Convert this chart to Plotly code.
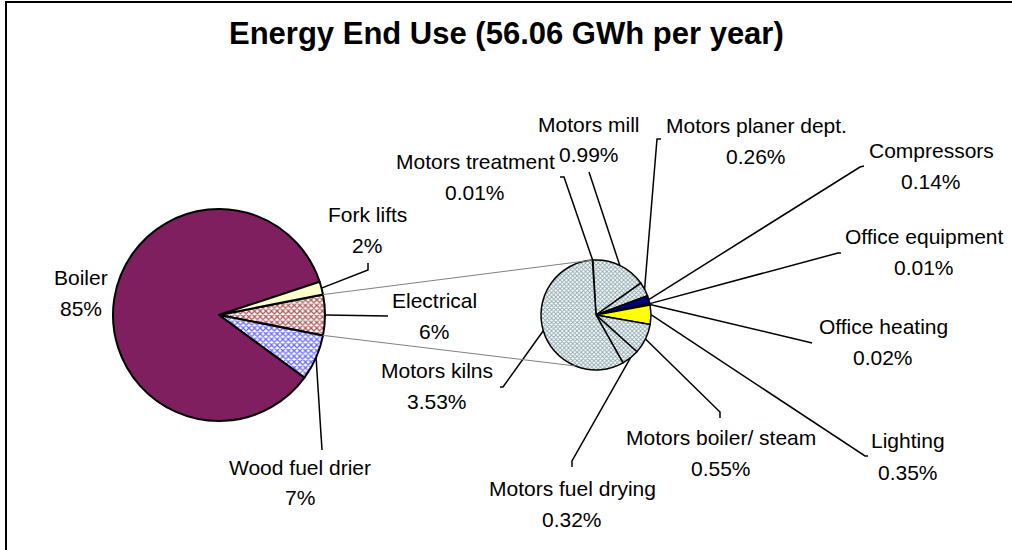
import math
import plotly.graph_objects as go

W, H = 1012, 550
FONT = "Liberation Sans, Arial, sans-serif"

# main pie (clockwise from the Electrical slice)
main_labels = ["Electrical", "Wood fuel drier", "Boiler", "Fork lifts"]
main_pct_text = ["6%", "7%", "85%", "2%"]

# breakdown of the Electrical slice (clockwise from the top)
sec_labels = ["Motors treatment", "Motors mill", "Motors planer dept.", "Compressors",
              "Office equipment", "Office heating", "Lighting", "Motors boiler/ steam",
              "Motors fuel drying", "Motors kilns"]
sec_values = [0.01, 0.99, 0.26, 0.14, 0.01, 0.02, 0.35, 0.55, 0.32, 3.53]
sec_pct_text = ["0.01%", "0.99%", "0.26%", "0.14%", "0.01%", "0.02%", "0.35%",
                "0.55%", "0.32%", "3.53%"]

electrical = round(sum(sec_values), 2)
main_values = [electrical, 7, 85, 2]

# pie placement in pixels
MAIN_C, MAIN_R = (219, 315), 106
SEC_C, SEC_R = (596, 315), 55
SEC_ROT = -3.8
main_rot = 90 - electrical / sum(main_values) * 180


def px(x, y):
    return x / W, 1 - y / H


def domain(c, r):
    return dict(x=[(c[0] - r) / W, (c[0] + r) / W], y=[1 - (c[1] + r) / H, 1 - (c[1] - r) / H])


def slice_angles(values, rot):
    # start / mid / end angles, degrees clockwise from 12 o'clock
    tot = sum(values)
    a = rot
    out = []
    for v in values:
        span = v / tot * 360
        out.append((a, a + span / 2, a + span))
        a += span
    return out


def edge(c, r, ang):
    t = math.radians(ang)
    return c[0] + r * math.sin(t), c[1] - r * math.cos(t)


fig = go.Figure()

fig.add_trace(go.Pie(
    labels=main_labels, values=main_values, sort=False, direction="clockwise",
    rotation=main_rot, domain=domain(MAIN_C, MAIN_R), textinfo="none", showlegend=False,
    marker=dict(
        colors=["#ffffff", "#ffffff", "#7f1f5f", "#ffffcc"],
        line=dict(color="black", width=2),
        pattern=dict(shape=["x", "x", "", ""], fgcolor=["#b05a5a", "#6a6aff", "#7f1f5f", "#ffffcc"],
                     bgcolor=["#ffffff", "#ffffff", "#7f1f5f", "#ffffcc"], size=4, solidity=0.55),
    ),
))

sec_bg = ["#ffffff"] * len(sec_values)
sec_bg[3] = "#000080"
sec_bg[6] = "#ffff00"
sec_shape = ["x"] * len(sec_values)
sec_shape[3] = ""
sec_shape[6] = ""
sec_fg = ["#8aa6ae"] * len(sec_values)
sec_fg[3] = "#000080"
sec_fg[6] = "#ffff00"

fig.add_trace(go.Pie(
    labels=sec_labels, values=sec_values, sort=False, direction="clockwise",
    rotation=SEC_ROT, domain=domain(SEC_C, SEC_R), textinfo="none", showlegend=False,
    marker=dict(
        colors=sec_bg,
        line=dict(color="black", width=1.5),
        pattern=dict(shape=sec_shape, fgcolor=sec_fg, bgcolor=sec_bg, size=3, solidity=0.5),
    ),
))

shapes = []
annotations = []


def path_shape(points, color="black", width=1.5):
    d = ""
    for i, (x, y) in enumerate(points):
        u, v = px(x, y)
        d += ("M" if i == 0 else "L") + f"{u:.5f},{v:.5f} "
    shapes.append(dict(type="path", xref="paper", yref="paper", path=d.strip(),
                       line=dict(color=color, width=width)))


def label(name, pct, pos, gap=31):
    for txt, dy in ((name, 0), (pct, gap)):
        u, v = px(pos[0], pos[1] + dy)
        annotations.append(dict(text=txt, x=u, y=v, xref="paper", yref="paper",
                                showarrow=False, xanchor="center", yanchor="middle",
                                font=dict(family=FONT, size=21, color="black")))


# label centres (first line) and leader-line anchors, in pixels
main_pos = {"Electrical": (434, 300), "Wood fuel drier": (300, 467),
            "Boiler": (81, 277), "Fork lifts": (367, 214)}
main_lead = {"Electrical": [(388, 316)], "Wood fuel drier": [(322, 450)],
             "Fork lifts": [(368, 263), (368, 270)]}

sec_pos = {"Motors treatment": (475, 161), "Motors mill": (589, 124),
           "Motors planer dept.": (756, 125), "Compressors": (931, 150),
           "Office equipment": (924, 236), "Office heating": (883, 326),
           "Lighting": (908, 441), "Motors boiler/ steam": (721, 437),
           "Motors fuel drying": (572, 488), "Motors kilns": (437, 370)}
sec_lead = {"Motors treatment": [(560, 177), (564, 177)],
            "Motors mill": [(589, 172)],
            "Motors planer dept.": [(661, 139), (657, 139)],
            "Compressors": [(864, 166), (860, 167)],
            "Office equipment": [(841, 253), (838, 253)],
            "Office heating": [(812, 343), (808, 342)],
            "Lighting": [(868, 456), (865, 456)],
            "Motors boiler/ steam": [(720, 418), (720, 412)],
            "Motors fuel drying": [(572, 467), (572, 461)],
            "Motors kilns": [(500, 387), (503, 387)]}

main_ang = slice_angles(main_values, main_rot)
for name, pct, (a0, am, a1) in zip(main_labels, main_pct_text, main_ang):
    label(name, pct, main_pos[name])
    if name in main_lead:
        path_shape(main_lead[name] + [edge(MAIN_C, MAIN_R, am)])

sec_ang = slice_angles(sec_values, SEC_ROT)
for name, pct, (a0, am, a1) in zip(sec_labels, sec_pct_text, sec_ang):
    label(name, pct, sec_pos[name])
    path_shape(sec_lead[name] + [edge(SEC_C, SEC_R, am)])

# grey connectors from the Electrical slice to the secondary pie
e0, _, e1 = main_ang[0]
path_shape([edge(MAIN_C, MAIN_R, e0), edge(SEC_C, SEC_R, SEC_ROT)], color="#808080", width=1)
path_shape([edge(MAIN_C, MAIN_R, e1), edge(SEC_C, SEC_R, 202)], color="#808080", width=1)

# chart area frame (runs off the right and bottom of the picture)
shapes.append(dict(type="rect", xref="paper", yref="paper", x0=6 / W, x1=1.02, y0=-0.02,
                   y1=1 - 2 / H, line=dict(color="black", width=2), layer="below"))

tu, tv = px(506, 34)
annotations.append(dict(text="<b>Energy End Use (56.06 GWh per year)</b>", x=tu, y=tv,
                        xref="paper", yref="paper", showarrow=False,
                        xanchor="center", yanchor="middle",
                        font=dict(family=FONT, size=31, color="black")))

fig.update_layout(
    width=W, height=H, autosize=False,
    margin=dict(l=0, r=0, t=0, b=0),
    paper_bgcolor="white", plot_bgcolor="white",
    shapes=shapes, annotations=annotations,
    showlegend=False,
)

# drop the browser's default body margin so the 1012x550 figure fills the window
fig.write_html("out.html", config={"displayModeBar": False},
               post_script="document.body.style.margin='0';"
                           "document.body.style.overflow='hidden';")
